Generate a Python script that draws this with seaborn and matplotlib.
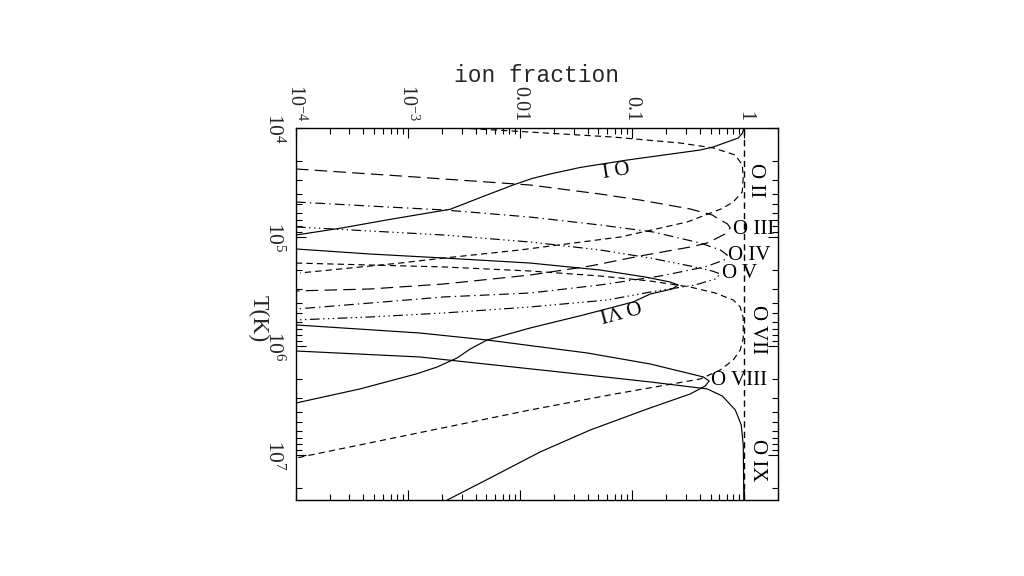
import numpy as np
import matplotlib
matplotlib.use("Agg")
import matplotlib.pyplot as plt
from matplotlib.ticker import NullFormatter
import seaborn as sns

# ---------------- data (log10 T, log10 ion fraction) ----------------
ion_names = ["O I", "O II", "O III", "O IV", "O V", "O VI", "O VII", "O VIII", "O IX"]

logT_OI = [4.000, 4.045, 4.092, 4.174, 4.202, 4.294, 4.362, 4.422, 4.463, 4.523, 4.569, 4.620, 4.746, 4.840, 4.920, 4.982]
logf_OI = [-0.004, -0.015, -0.054, -0.277, -0.393, -1.045, -1.464, -1.732, -1.893, -2.063, -2.179, -2.310, -2.625, -3.170, -3.607, -4.000]

logT_OII = [4.000, 4.028, 4.083, 4.138, 4.183, 4.248, 4.339, 4.450, 4.587, 4.680, 4.740, 4.817, 4.862, 4.930, 5.000, 5.119, 5.193, 5.239, 5.330]
logf_OII = [-2.540, -2.063, -1.170, -0.571, -0.277, -0.080, -0.018, -0.009, -0.018, -0.100, -0.200, -0.393, -0.509, -0.800, -1.107, -2.000, -2.679, -3.071, -3.964]

logT_OIII = [4.376, 4.440, 4.523, 4.606, 4.661, 4.743, 4.798, 4.844, 4.880, 4.917, 4.972, 5.055, 5.092, 5.174, 5.266, 5.349, 5.431, 5.477, 5.495]
logf_OIII = [-4.000, -3.071, -1.911, -1.286, -0.929, -0.482, -0.286, -0.214, -0.150, -0.125, -0.170, -0.330, -0.482, -0.929, -1.375, -1.911, -2.679, -3.340, -4.000]

logT_OIV = [4.679, 4.716, 4.752, 4.817, 4.890, 4.954, 5.055, 5.119, 5.165, 5.211, 5.275, 5.358, 5.440, 5.514, 5.550, 5.606, 5.661]
logf_OIV = [-4.000, -3.340, -2.679, -1.911, -1.286, -0.813, -0.393, -0.214, -0.152, -0.180, -0.350, -0.750, -1.286, -1.911, -2.679, -3.340, -4.000]

logT_OV = [4.908, 4.945, 4.982, 5.046, 5.119, 5.193, 5.266, 5.312, 5.339, 5.385, 5.440, 5.505, 5.578, 5.642, 5.697, 5.734, 5.761]
logf_OV = [-4.000, -3.340, -2.679, -1.911, -1.286, -0.839, -0.482, -0.286, -0.214, -0.259, -0.437, -0.839, -1.223, -1.911, -2.679, -3.340, -4.000]

logT_OVI = [5.110, 5.156, 5.193, 5.239, 5.303, 5.367, 5.413, 5.440, 5.477, 5.523, 5.596, 5.716, 5.835, 5.945, 6.028, 6.110, 6.193, 6.257, 6.394, 6.523]
logf_OVI = [-4.000, -3.340, -2.679, -1.911, -1.286, -0.884, -0.661, -0.589, -0.643, -0.839, -0.991, -1.438, -1.911, -2.295, -2.446, -2.563, -2.741, -2.929, -3.429, -4.000]

logT_OVII = [5.239, 5.257, 5.275, 5.312, 5.358, 5.404, 5.459, 5.514, 5.578, 5.642, 5.743, 5.927, 6.037, 6.128, 6.220, 6.303, 6.440, 6.587, 6.798, 7.028]
logf_OVII = [-4.000, -3.340, -2.679, -1.911, -1.286, -0.839, -0.482, -0.259, -0.098, -0.036, -0.009, -0.009, -0.036, -0.098, -0.214, -0.393, -1.152, -1.911, -2.911, -4.000]

logT_OVIII = [5.807, 5.881, 5.945, 6.064, 6.165, 6.248, 6.284, 6.321, 6.367, 6.440, 6.578, 6.771, 6.972, 7.211, 7.413]
logf_OVIII = [-4.000, -2.893, -2.295, -1.402, -0.839, -0.509, -0.366, -0.313, -0.348, -0.482, -0.866, -1.375, -1.821, -2.268, -2.650]

logT_OIX = [6.046, 6.101, 6.239, 6.330, 6.394, 6.459, 6.587, 6.725, 6.908, 7.413]
logf_OIX = [-4.000, -2.893, -1.643, -0.839, -0.330, -0.196, -0.080, -0.027, -0.009, -0.004]

frac_ticks = [1e-4, 1e-3, 1e-2, 1e-1, 1.0]
frac_ticklabels = ["10$^{-4}$", "10$^{-3}$", "0.01", "0.1", "1"]
T_ticks = [1e4, 1e5, 1e6, 1e7]
T_ticklabels = ["10$^4$", "10$^5$", "10$^6$", "10$^7$"]

# ---------------- style ----------------
sns.set_style("white")
plt.rcParams["font.family"] = ["Liberation Serif", "DejaVu Serif"]
plt.rcParams["mathtext.fontset"] = "custom"
plt.rcParams["mathtext.rm"] = "Liberation Serif"
plt.rcParams["mathtext.it"] = "Liberation Serif:italic"
plt.rcParams["mathtext.bf"] = "Liberation Serif:bold"
plt.rcParams["lines.scale_dashes"] = False

fig = plt.figure(figsize=(10.24, 5.76), dpi=100)
ax = fig.add_axes([296 / 1024, 1 - 500 / 576, (778 - 296) / 1024, (500 - 128) / 576])

short_dash = (0, (4.5, 3.0))
long_dash = (0, (9.0, 4.5))
dash_dot = (0, (7.0, 3.0, 1.0, 3.0))
dash_3dot = (0, (7.0, 2.5, 1.0, 2.5, 1.0, 2.5, 1.0, 2.5))

series = [
    (logT_OI, logf_OI, "-"),
    (logT_OII, logf_OII, short_dash),
    (logT_OIII, logf_OIII, long_dash),
    (logT_OIV, logf_OIV, dash_dot),
    (logT_OV, logf_OV, dash_3dot),
    (logT_OVI, logf_OVI, "-"),
    (logT_OVII, logf_OVII, short_dash),
    (logT_OVIII, logf_OVIII, "-"),
    (logT_OIX, logf_OIX, "-"),
]

for lt, lf, ls in series:
    sns.lineplot(x=10 ** np.array(lf), y=10 ** np.array(lt), sort=False,
                 estimator=None, ax=ax, color="black", lw=0.85, linestyle=ls)

ax.axvline(1.0, color="black", lw=1.0, linestyle=short_dash)

ax.set_xscale("log")
ax.set_yscale("log")
ax.set_xlim(1e-4, 2.0)
ax.set_ylim(10 ** 7.413, 1e4)

ax.set_xticks(frac_ticks)
ax.set_xticklabels(frac_ticklabels)
ax.set_yticks(T_ticks)
ax.set_yticklabels(T_ticklabels)
ax.xaxis.set_minor_formatter(NullFormatter())
ax.yaxis.set_minor_formatter(NullFormatter())

ax.tick_params(which="both", direction="in", top=True, bottom=True, left=True, right=True,
               labeltop=True, labelbottom=False, labelleft=True, labelright=False,
               color="black", width=0.8)
ax.tick_params(which="major", length=7)
ax.tick_params(which="minor", length=4)
ax.tick_params(axis="x", labelrotation=-90, labelsize=14.5, pad=5)
ax.tick_params(axis="y", labelrotation=-90, labelsize=15.5, pad=8)
for lbl in ax.get_yticklabels():
    lbl.set_va("center")

for sp in ax.spines.values():
    sp.set_color("black")
    sp.set_linewidth(1.0)

fig.text(536 / 1024, 1 - 75 / 576, "ion fraction", fontsize=16.5,
         family=["Liberation Mono", "DejaVu Sans Mono"], ha="center", va="center")
fig.text(258 / 1024, 1 - 319 / 576, "T(K)", fontsize=17, rotation=-90,
         ha="center", va="center")

# curve labels
lab_kw = dict(fontsize=15, color="black")
ax.text(0.0705, 10 ** 4.339, "O I", rotation=189, ha="center", va="center", **lab_kw)
ax.text(1.25, 10 ** 4.477, "O II", rotation=-90, ha="center", va="center", **lab_kw)
ax.text(0.80, 10 ** 4.927, "O III", ha="left", va="center", **lab_kw)
ax.text(0.72, 10 ** 5.174, "O IV", ha="left", va="center", **lab_kw)
ax.text(0.637, 10 ** 5.339, "O V", ha="left", va="center", **lab_kw)
ax.text(0.078, 10 ** 5.651, "O VI", rotation=195, ha="center", va="center", **lab_kw)
ax.text(1.31, 10 ** 5.853, "O VII", rotation=-90, ha="center", va="center", **lab_kw)
ax.text(0.507, 10 ** 6.321, "O VIII", ha="left", va="center", **lab_kw)
ax.text(1.31, 10 ** 7.046, "O IX", rotation=-90, ha="center", va="center", **lab_kw)

fig.savefig("out.png", dpi=100)
